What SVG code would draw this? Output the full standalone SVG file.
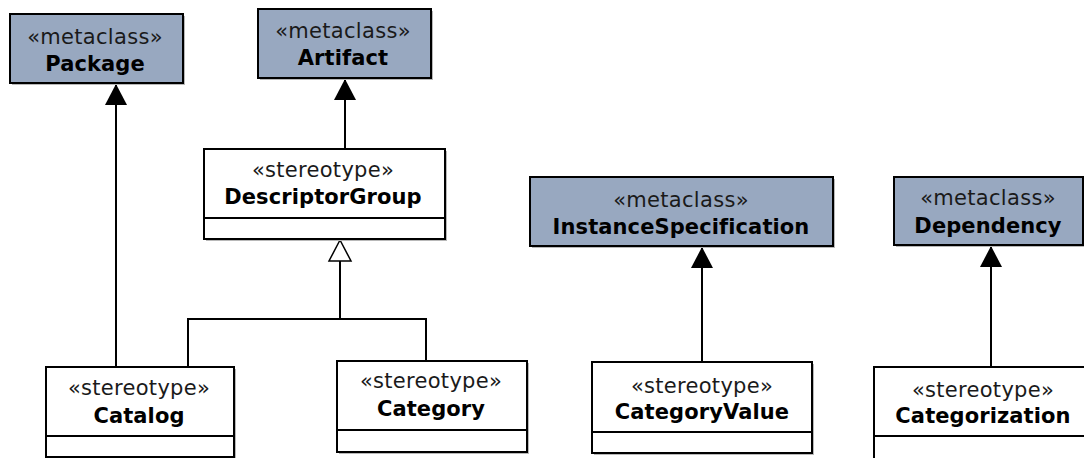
<svg xmlns="http://www.w3.org/2000/svg" width="1084" height="458" viewBox="0 0 1084 458">
  <style>
    .meta { fill: #98a8c0; stroke: #000; stroke-width: 2; }
    .stereo { fill: #fff; stroke: #000; stroke-width: 2; }
    .shadow { fill: #b8b8b8; }
    .div { stroke: #000; stroke-width: 2; }
    .kw { font-family: "DejaVu Sans", Verdana, sans-serif; font-size: 21px; letter-spacing: 0.3px; fill: #1a1a1a; text-anchor: middle; }
    .nm { font-family: "DejaVu Sans", Verdana, sans-serif; font-size: 21px; font-weight: bold; letter-spacing: 0.1px; fill: #000; text-anchor: middle; }
    .conn { fill: none; stroke: #000; stroke-width: 2; }
  </style>
  <defs>
    <marker id="ext" markerUnits="userSpaceOnUse" markerWidth="22" markerHeight="22" viewBox="0 0 22 22" refX="21" refY="11" orient="auto">
      <path d="M0,0 L21,11 L0,22 Z" fill="#000"/>
    </marker>
  </defs>
  <rect width="1084" height="458" fill="#fff"/>

  <g id="connectors">
    <line class="conn" x1="116" y1="367" x2="116" y2="84" marker-end="url(#ext)"/>
    <line class="conn" x1="345" y1="149" x2="345" y2="79" marker-end="url(#ext)"/>
    <line class="conn" x1="702" y1="362" x2="702" y2="247" marker-end="url(#ext)"/>
    <line class="conn" x1="991" y1="367" x2="991" y2="246" marker-end="url(#ext)"/>
    <polyline class="conn" points="188,367 188,319 426,319 426,361"/>
    <line class="conn" x1="340" y1="319" x2="340" y2="261"/>
    <polygon points="340,240 351,261 329,261" fill="#fff" stroke="#000" stroke-width="1.5"/>
  </g>

  <g id="Package">
    <rect class="shadow" x="12" y="16" width="173" height="69"/>
    <rect class="meta" x="10" y="14" width="173" height="69"/>
    <text class="kw" x="95" y="44">«metaclass»</text>
    <text class="nm" x="95" y="71">Package</text>
  </g>

  <g id="Artifact">
    <rect class="shadow" x="260" y="11" width="173" height="69"/>
    <rect class="meta" x="258" y="9" width="173" height="69"/>
    <text class="kw" x="343" y="38">«metaclass»</text>
    <text class="nm" x="343" y="65">Artifact</text>
  </g>

  <g id="DescriptorGroup">
    <rect class="shadow" x="206" y="151" width="241" height="90"/>
    <rect class="stereo" x="204" y="149" width="241" height="90"/>
    <line class="div" x1="204" y1="218" x2="445" y2="218"/>
    <text class="kw" x="323" y="177">«stereotype»</text>
    <text class="nm" x="323" y="204">DescriptorGroup</text>
  </g>

  <g id="Catalog">
    <rect class="shadow" x="48" y="369" width="188" height="90"/>
    <rect class="stereo" x="46" y="367" width="188" height="90"/>
    <line class="div" x1="46" y1="436" x2="234" y2="436"/>
    <text class="kw" x="139" y="395">«stereotype»</text>
    <text class="nm" x="139" y="423">Catalog</text>
  </g>

  <g id="Category">
    <rect class="shadow" x="339" y="363" width="190" height="91"/>
    <rect class="stereo" x="337" y="361" width="190" height="91"/>
    <line class="div" x1="337" y1="430" x2="527" y2="430"/>
    <text class="kw" x="431" y="388">«stereotype»</text>
    <text class="nm" x="431" y="416">Category</text>
  </g>

  <g id="InstanceSpecification">
    <rect class="shadow" x="532" y="179" width="303" height="69"/>
    <rect class="meta" x="530" y="177" width="303" height="69"/>
    <text class="kw" x="681" y="207">«metaclass»</text>
    <text class="nm" x="681" y="234">InstanceSpecification</text>
  </g>

  <g id="CategoryValue">
    <rect class="shadow" x="594" y="364" width="220" height="91"/>
    <rect class="stereo" x="592" y="362" width="220" height="91"/>
    <line class="div" x1="592" y1="432" x2="812" y2="432"/>
    <text class="kw" x="702" y="393">«stereotype»</text>
    <text class="nm" x="702" y="419">CategoryValue</text>
  </g>

  <g id="Dependency">
    <rect class="shadow" x="896" y="179" width="189" height="68"/>
    <rect class="meta" x="894" y="177" width="189" height="68"/>
    <text class="kw" x="988" y="205">«metaclass»</text>
    <text class="nm" x="988" y="233">Dependency</text>
  </g>

  <g id="Categorization">
    <rect class="stereo" x="874" y="367" width="220" height="100"/>
    <line class="div" x1="874" y1="436" x2="1094" y2="436"/>
    <text class="kw" x="983" y="397">«stereotype»</text>
    <text class="nm" x="983" y="423">Categorization</text>
  </g>
</svg>
